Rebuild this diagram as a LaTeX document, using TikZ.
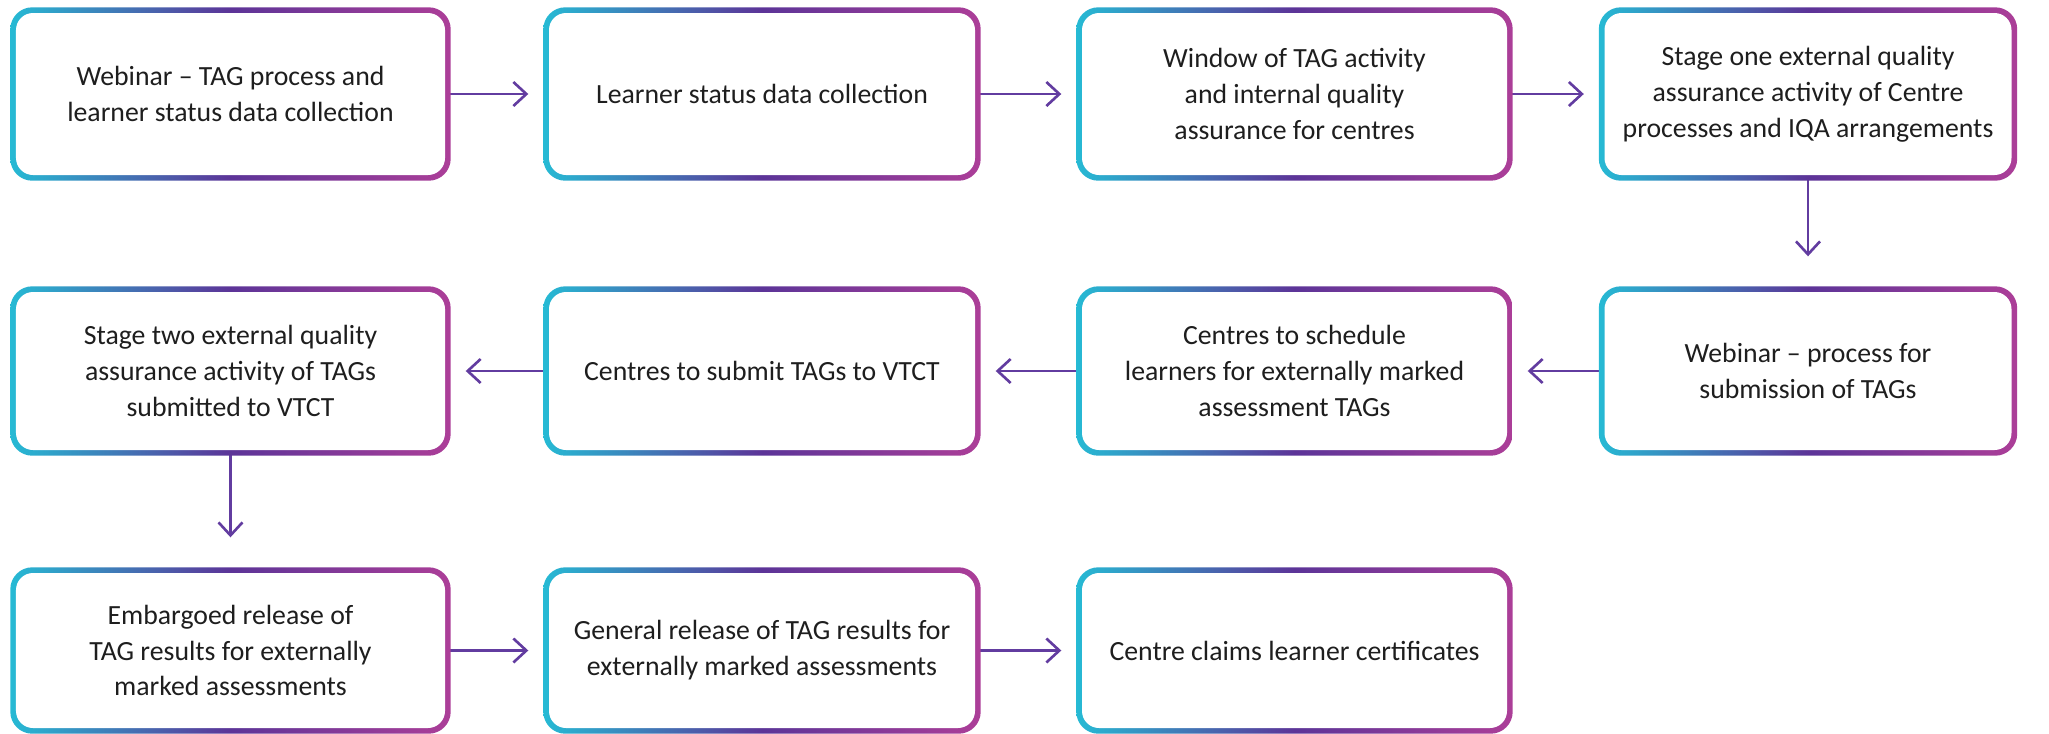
\documentclass[tikz,border=0pt]{standalone}
\usepackage{fontspec}
\setmainfont{Carlito}
\usetikzlibrary{arrows.meta}
\definecolor{white}{rgb}{1.0, 1.0, 1.0}
\definecolor{textgrey}{RGB}{30, 30, 30}
\definecolor{ringcyan}{RGB}{38, 186, 212}
\definecolor{ringpurple}{RGB}{92, 52, 152}
\definecolor{ringmagenta}{RGB}{172, 62, 152}
\definecolor{arrowpurple}{RGB}{98, 60, 160}
\pgfdeclarelayer{edgelayer}
\pgfdeclarelayer{nodelayer}
\pgfsetlayers{edgelayer,nodelayer,main}
\tikzstyle{stepbox}=[rectangle,rounded corners=0.17cm,fill=white,inner sep=0pt,align=center,text=textgrey,font=\fontsize{7.9pt}{10.2pt}\selectfont]
\tikzstyle{ring}=[rounded corners=0.22cm,left color=ringcyan,right color=ringmagenta,middle color=ringpurple]
\tikzstyle{flow}=[-{Straight Barb[length=1.3mm,width=2.4mm]},draw=arrowpurple,line width=0.75pt,shorten >=0.2cm]
\tikzstyle{flowdown}=[flow,shorten >=0.35cm]

\begin{document}
\begin{tikzpicture}
        \useasboundingbox (0, 0) rectangle (20.49, -7.33);
        \begin{pgfonlayer}{nodelayer}
            \node [style = stepbox, minimum width=4.29cm, minimum height=1.62cm] (webinar) at (2.305, -0.94) {Webinar -- TAG process and\\learner status data collection};
            \node [style = stepbox, minimum width=4.26cm, minimum height=1.62cm] (status) at (7.62, -0.94) {Learner status data collection};
            \node [style = stepbox, minimum width=4.25cm, minimum height=1.62cm] (window) at (12.945, -0.94) {Window of TAG activity\\and internal quality\\assurance for centres};
            \node [style = stepbox, minimum width=4.07cm, minimum height=1.62cm] (stageone) at (18.08, -0.94) {Stage one external quality\\assurance activity of Centre\\processes and IQA arrangements};
            \node [style = stepbox, minimum width=4.07cm, minimum height=1.58cm] (webinartwo) at (18.08, -3.71) {Webinar -- process for\\submission of TAGs};
            \node [style = stepbox, minimum width=4.25cm, minimum height=1.58cm] (schedule) at (12.945, -3.71) {Centres to schedule\\learners for externally marked\\assessment TAGs};
            \node [style = stepbox, minimum width=4.26cm, minimum height=1.58cm] (submit) at (7.62, -3.71) {Centres to submit TAGs to VTCT};
            \node [style = stepbox, minimum width=4.29cm, minimum height=1.58cm] (stagetwo) at (2.305, -3.71) {Stage two external quality\\assurance activity of TAGs\\submitted to VTCT};
            \node [style = stepbox, minimum width=4.29cm, minimum height=1.55cm] (embargo) at (2.305, -6.505) {Embargoed release of\\TAG results for externally\\marked assessments};
            \node [style = stepbox, minimum width=4.26cm, minimum height=1.55cm] (general) at (7.62, -6.505) {General release of TAG results for\\externally marked assessments};
            \node [style = stepbox, minimum width=4.25cm, minimum height=1.55cm] (claims) at (12.945, -6.505) {Centre claims learner certificates};
        \end{pgfonlayer}

        \begin{pgfonlayer}{edgelayer}
            \draw [style = flow] (webinar) to (status);
            \draw [style = flow] (status) to (window);
            \draw [style = flow] (window) to (stageone);
            \draw [style = flowdown] (stageone) to (webinartwo);
            \draw [style = flow] (webinartwo) to (schedule);
            \draw [style = flow] (schedule) to (submit);
            \draw [style = flow] (submit) to (stagetwo);
            \draw [style = flowdown] (stagetwo) to (embargo);
            \draw [style = flow] (embargo) to (general);
            \draw [style = flow] (general) to (claims);
            % gradient rims
            \foreach \n in {webinar,status,window,stageone,webinartwo,schedule,submit,stagetwo,embargo,general,claims}
                \shade [style = ring] ([shift={(-0.05,0.05)}]\n.north west) rectangle ([shift={(0.05,-0.05)}]\n.south east);
        \end{pgfonlayer}
    \end{tikzpicture}
\end{document}
